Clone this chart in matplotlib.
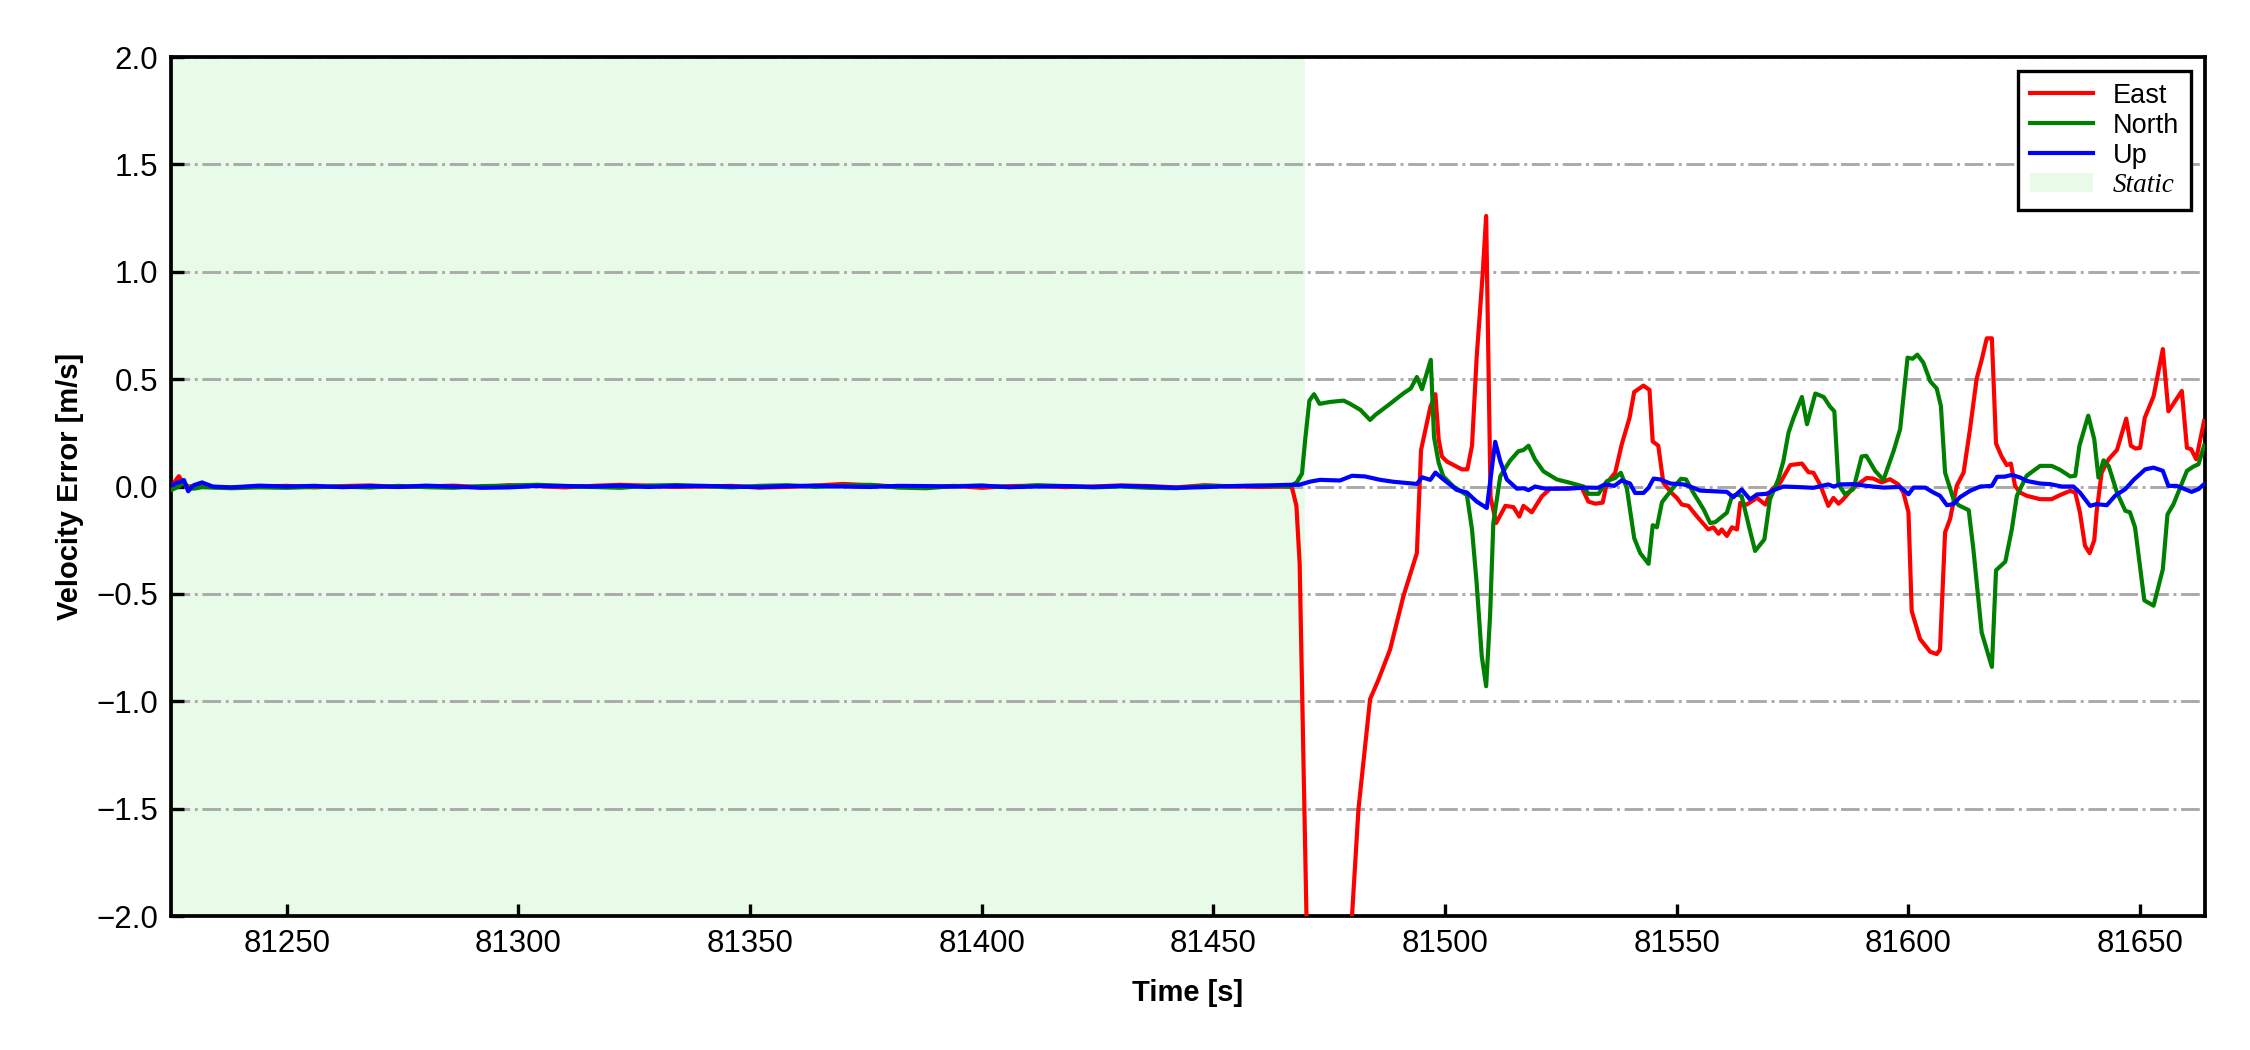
import matplotlib
matplotlib.use("Agg")
import matplotlib.pyplot as plt
from matplotlib.ticker import MultipleLocator, FuncFormatter

plt.rcParams['font.family'] = ['Liberation Sans', 'DejaVu Sans']

# ---------------- data ----------------
# static part: shared sample times
t_static = [81225, 81226.7, 81227.8, 81228.7, 81229.9, 81231.7, 81234,
            81238, 81244, 81250, 81256, 81262, 81268, 81274, 81280, 81286, 81292,
            81298, 81304, 81310, 81316, 81322, 81328, 81334, 81340, 81346, 81352,
            81358, 81364, 81370, 81376, 81382, 81388, 81394, 81400, 81406, 81412,
            81418, 81424, 81430, 81436, 81442, 81448, 81454, 81460]

east_static = [0.0, 0.048, 0.012, 0.0, 0.002, 0.0, -0.003,
               -0.005, 0.0, 0.003, -0.004, 0.002, 0.005, -0.002, 0.0, 0.004, -0.003,
               0.006, 0.002, -0.004, 0.003, 0.008, 0.004, -0.002, 0.0, 0.003, -0.005,
               -0.002, 0.004, 0.012, 0.006, 0.0, -0.004, 0.003, -0.006, 0.002, 0.004,
               -0.003, 0.0, 0.005, 0.002, -0.004, 0.006, 0.0, -0.002]
north_static = [-0.017, 0.0, 0.02, -0.005, -0.01, -0.003, -0.005,
                -0.008, -0.004, -0.006, -0.002, 0.0, -0.005, 0.003, -0.003, -0.006, 0.002,
                0.004, 0.008, 0.003, -0.002, -0.006, 0.004, 0.007, 0.002, -0.004, 0.003,
                0.006, -0.002, 0.004, 0.008, -0.005, -0.008, 0.002, 0.004, -0.003, 0.006,
                0.002, -0.004, 0.0, -0.006, -0.008, 0.003, 0.002, 0.004]
up_static = [0.005, 0.02, 0.03, -0.022, 0.006, 0.019, 0.0,
             -0.004, 0.004, 0.0, 0.003, -0.003, 0.002, -0.002, 0.004, 0.0, -0.006,
             -0.004, 0.003, 0.002, 0.0, 0.004, -0.002, 0.002, 0.003, 0.0, -0.003,
             0.002, 0.004, 0.0, -0.002, 0.003, 0.002, 0.0, 0.004, -0.003, 0.0,
             0.002, -0.002, 0.003, 0.0, -0.006, -0.003, 0.002, 0.004]

# dynamic part
east_t = [81466.5, 81467.0, 81467.9, 81468.6, 81471.5, 81476.0, 81478.5, 81481.3, 81483.8,
          81485.6, 81488.1, 81491.0, 81493.9, 81494.8, 81496.8, 81497.9, 81498.6, 81499.3,
          81500.4, 81501.8, 81503.6, 81504.8, 81505.8, 81506.8, 81508.1, 81508.85, 81509.8,
          81511.0, 81513.0, 81514.75, 81516.0, 81516.9, 81518.7, 81520.9, 81522.7, 81526.3,
          81529.5, 81530.9, 81532.4, 81534.0, 81534.9, 81536.7, 81538.1, 81539.8, 81540.8,
          81542.8, 81544.1, 81544.8, 81546.0, 81547.1, 81548.9, 81550.0, 81551.1, 81552.5,
          81554.3, 81556.8, 81557.9, 81559.0, 81559.7, 81560.8, 81561.9, 81563.0, 81563.7,
          81565.1, 81567.3, 81569.1, 81570.5, 81572.3, 81574.5, 81577.0, 81578.4, 81579.5,
          81580.9, 81582.7, 81583.8, 81584.9, 81585.9, 81588.1, 81591.0, 81592.4, 81594.2,
          81596.0, 81597.8, 81598.9, 81600.0, 81600.7, 81602.5, 81604.7, 81606.1, 81606.8,
          81607.9, 81609.0, 81610.4, 81611.9, 81613.3, 81614.7, 81615.8, 81616.9, 81618.0,
          81618.9, 81620.1, 81621.2, 81622.1, 81623.0, 81624.1, 81625.5, 81628.4, 81630.9,
          81632.7, 81634.9, 81636.0, 81637.0, 81638.1, 81639.1, 81640.1, 81640.6, 81641.7,
          81643.2, 81645.0, 81647.0, 81648.0, 81649.0, 81650.0, 81651.0, 81652.9, 81654.9,
          81656.1, 81659.0, 81660.1, 81661.0, 81662.1, 81663.8]
east_v = [0.0, -0.01, -0.09, -0.36, -3.6, -3.9, -2.5, -1.5, -0.99,
          -0.90, -0.76, -0.51, -0.31, 0.17, 0.37, 0.43, 0.22, 0.14,
          0.116, 0.10, 0.08, 0.08, 0.19, 0.60, 0.99, 1.26, -0.05,
          -0.17, -0.09, -0.096, -0.14, -0.09, -0.12, -0.045, -0.01, -0.008,
          -0.006, -0.07, -0.08, -0.075, 0.017, 0.064, 0.195, 0.32, 0.44,
          0.47, 0.45, 0.21, 0.19, 0.017, -0.03, -0.053, -0.084, -0.09,
          -0.138, -0.20, -0.19, -0.22, -0.20, -0.23, -0.19, -0.20, -0.076,
          -0.084, -0.053, -0.084, -0.014, 0.017, 0.10, 0.107, 0.067, 0.064,
          0.01, -0.09, -0.053, -0.08, -0.06, -0.005, 0.04, 0.037, 0.019,
          0.034, 0.01, -0.028, -0.12, -0.58, -0.71, -0.77, -0.78, -0.76,
          -0.214, -0.15, 0.003, 0.065, 0.27, 0.50, 0.59, 0.69, 0.69,
          0.20, 0.14, 0.10, 0.107, 0.003, -0.028, -0.043, -0.059, -0.059,
          -0.04, -0.02, -0.028, -0.12, -0.276, -0.31, -0.25, -0.12, 0.065,
          0.127, 0.17, 0.316, 0.19, 0.177, 0.18, 0.32, 0.42, 0.64,
          0.35, 0.445, 0.18, 0.174, 0.127, 0.305]

north_t = [81466.5, 81468.0, 81469.1, 81469.8, 81470.7, 81471.7, 81472.9, 81475.2, 81478.1,
           81479.5, 81481.7, 81483.8, 81484.9, 81488.1, 81491.0, 81492.6, 81493.9, 81495.0,
           81496.9, 81497.6, 81498.6, 81499.6, 81501.8, 81504.7, 81505.8, 81506.8, 81507.9,
           81508.85, 81509.7, 81510.4, 81511.9, 81514.0, 81515.8, 81516.9, 81518.0, 81519.4,
           81521.2, 81524.1, 81527.0, 81529.9, 81530.9, 81533.1, 81534.9, 81536.7, 81537.9,
           81539.2, 81540.8, 81542.1, 81543.9, 81544.8, 81545.7, 81546.8, 81548.9, 81550.9,
           81552.0, 81553.6, 81555.8, 81557.2, 81558.3, 81560.8, 81561.9, 81563.0, 81564.0,
           81565.7, 81566.9, 81568.9, 81570.1, 81571.9, 81573.0, 81574.1, 81575.2, 81577.0,
           81578.1, 81579.9, 81581.7, 81583.0, 81584.0, 81584.9, 81586.3, 81588.1, 81589.9,
           81590.9, 81592.8, 81594.6, 81596.8, 81598.2, 81599.8, 81600.9, 81601.9, 81603.2,
           81604.7, 81606.1, 81607.0, 81607.9, 81609.7, 81610.8, 81613.0, 81614.0, 81615.8,
           81618.0, 81618.9, 81620.9, 81622.3, 81623.4, 81625.5, 81628.4, 81630.9, 81632.7,
           81634.9, 81636.0, 81636.9, 81638.8, 81640.1, 81641.0, 81642.1, 81643.2, 81645.0,
           81646.8, 81647.8, 81648.9, 81650.9, 81652.9, 81654.9, 81655.9, 81657.2, 81660.1,
           81661.5, 81662.6, 81663.8]
north_v = [0.0, 0.02, 0.06, 0.22, 0.40, 0.43, 0.385, 0.394, 0.40,
           0.385, 0.357, 0.31, 0.333, 0.385, 0.434, 0.457, 0.51, 0.453,
           0.59, 0.23, 0.11, 0.047, 0.0, -0.04, -0.20, -0.45, -0.79,
           -0.93, -0.60, -0.17, 0.048, 0.12, 0.164, 0.17, 0.19, 0.126,
           0.071, 0.033, 0.017, 0.0, -0.034, -0.034, 0.025, 0.04, 0.064,
           -0.006, -0.24, -0.31, -0.36, -0.18, -0.19, -0.073, -0.014, 0.036,
           0.033, -0.03, -0.107, -0.17, -0.166, -0.122, -0.045, -0.037, -0.045,
           -0.197, -0.30, -0.246, -0.06, 0.033, 0.118, 0.25, 0.32, 0.417,
           0.29, 0.433, 0.417, 0.374, 0.35, 0.01, -0.036, -0.012, 0.14,
           0.143, 0.073, 0.031, 0.166, 0.267, 0.60, 0.595, 0.614, 0.577,
           0.49, 0.456, 0.375, 0.065, -0.059, -0.087, -0.11, -0.29, -0.68,
           -0.84, -0.39, -0.35, -0.20, -0.043, 0.05, 0.096, 0.096, 0.078,
           0.047, 0.05, 0.19, 0.33, 0.22, 0.042, 0.122, 0.096, -0.028,
           -0.113, -0.12, -0.19, -0.53, -0.555, -0.385, -0.13, -0.082, 0.073,
           0.093, 0.104, 0.19]

up_t = [81466.5, 81468.5, 81470.9, 81473.0, 81477.3, 81479.9, 81482.7, 81486.0, 81488.9,
        81493.9, 81495.0, 81496.8, 81497.9, 81499.3, 81501.1, 81502.5, 81504.7, 81506.8,
        81509.0, 81510.8, 81511.9, 81513.3, 81515.5, 81516.9, 81518.0, 81519.4, 81521.6,
        81526.3, 81530.6, 81533.0, 81534.5, 81536.5, 81538.1, 81539.9, 81541.0, 81542.8,
        81543.9, 81545.0, 81546.4, 81548.6, 81551.4, 81552.9, 81555.0, 81557.9, 81560.8,
        81562.2, 81564.0, 81565.8, 81567.3, 81569.4, 81570.9, 81573.0, 81576.6, 81579.5,
        81581.7, 81582.7, 81583.8, 81585.3, 81588.1, 81591.0, 81594.6, 81598.2, 81600.0,
        81601.1, 81603.6, 81605.4, 81606.8, 81608.3, 81609.7, 81611.1, 81613.3, 81615.5,
        81618.0, 81619.1, 81620.8, 81622.3, 81624.1, 81625.5, 81628.4, 81630.6, 81633.1,
        81635.6, 81637.0, 81639.2, 81640.6, 81642.8, 81644.6, 81646.8, 81648.6, 81651.1,
        81652.9, 81654.9, 81656.1, 81657.9, 81661.1, 81662.6, 81663.8]
up_v = [0.008, 0.008, 0.023, 0.031, 0.028, 0.05, 0.047, 0.031, 0.022,
        0.012, 0.043, 0.031, 0.065, 0.039, 0.008, -0.016, -0.028, -0.07,
        -0.10, 0.208, 0.118, 0.033, -0.01, -0.008, -0.017, 0.0, -0.01,
        -0.01, -0.005, -0.006, 0.01, 0.003, 0.028, 0.014, -0.03, -0.03,
        -0.006, 0.037, 0.033, 0.014, 0.01, 0.0, -0.019, -0.022, -0.025,
        -0.05, -0.014, -0.06, -0.037, -0.034, -0.017, 0.0, -0.003, -0.006,
        0.005, 0.01, 0.0, 0.01, 0.011, 0.003, -0.005, -0.002, -0.036,
        -0.005, -0.005, -0.028, -0.043, -0.087, -0.082, -0.05, -0.02, 0.0,
        0.003, 0.045, 0.046, 0.054, 0.042, 0.026, 0.014, 0.011, 0.0,
        0.0, -0.028, -0.09, -0.082, -0.087, -0.043, -0.012, 0.031, 0.08,
        0.088, 0.073, 0.003, 0.003, -0.025, -0.012, 0.011]

static_start = 81225
static_end = 81469.8
x_range = (81225, 81664)
y_range = (-2.0, 2.0)
x_ticks = [81250, 81300, 81350, 81400, 81450, 81500, 81550, 81600, 81650]

# ---------------- plot ----------------
fig = plt.figure(figsize=(7.5, 3.5), dpi=300)
ax = fig.add_axes([0.076, 0.1276, 0.904, 0.8181])

ax.axvspan(static_start, static_end, color='lightgreen', alpha=0.2, lw=0, label='Static', zorder=0)
ax.plot(t_static + east_t, east_static + east_v, color='red', lw=1.0, label='East', zorder=3)
ax.plot(t_static + north_t, north_static + north_v, color='green', lw=1.0, label='North', zorder=3)
ax.plot(t_static + up_t, up_static + up_v, color='blue', lw=1.0, label='Up', zorder=3)

ax.set_xlim(*x_range)
ax.set_ylim(*y_range)
ax.set_xticks(x_ticks)
ax.yaxis.set_major_locator(MultipleLocator(0.5))
ax.yaxis.set_major_formatter(FuncFormatter(lambda v, p: f'{v:.1f}'.replace('-', '\u2212')))
ax.xaxis.set_major_formatter(FuncFormatter(lambda v, p: f'{v:.0f}'))
ax.grid(axis='y', linestyle='-.', color='#aaaaaa', lw=0.7, zorder=1)
ax.tick_params(direction='in', length=3, width=0.8, labelsize=7.5, pad=3)
for s in ax.spines.values():
    s.set_linewidth(0.9)

ax.set_xlabel('Time [s]', fontsize=7, fontweight='bold', labelpad=5)
ax.set_ylabel('Velocity Error [m/s]', fontsize=7, fontweight='bold', labelpad=3)

handles, labels = ax.get_legend_handles_labels()
order = [labels.index(n) for n in ['East', 'North', 'Up', 'Static']]
leg = ax.legend([handles[i] for i in order], [labels[i] for i in order],
                loc='upper right', fontsize=6.5, fancybox=False, framealpha=1,
                edgecolor='black', labelspacing=0.15, handlelength=2.3,
                borderpad=0.45, handletextpad=0.75)
leg.get_frame().set_linewidth(0.8)
st = leg.get_texts()[3]
st.set_fontfamily(['Liberation Serif', 'DejaVu Serif'])
st.set_fontstyle('italic')

fig.savefig('out.png', dpi=300)
